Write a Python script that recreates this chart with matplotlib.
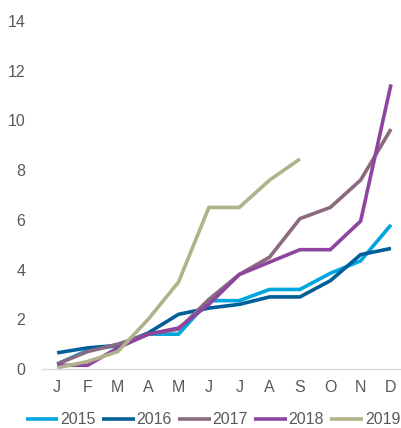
import matplotlib
matplotlib.use("Agg")
import matplotlib.pyplot as plt

plt.rcParams['font.family'] = ['Liberation Sans', 'DejaVu Sans']

months = ["J", "F", "M", "A", "M", "J", "J", "A", "S", "O", "N", "D"]
y2015 = [0.2, 0.75, 0.95, 1.4, 1.4, 2.75, 2.75, 3.2, 3.2, 3.85, 4.35, 5.8]
y2016 = [0.65, 0.85, 0.95, 1.45, 2.2, 2.45, 2.6, 2.9, 2.9, 3.55, 4.6, 4.85]
y2017 = [0.2, 0.7, 1.0, 1.4, 1.6, 2.8, 3.8, 4.5, 6.05, 6.5, 7.6, 9.65]
y2018 = [0.15, 0.15, 0.85, 1.4, 1.65, 2.6, 3.8, 4.3, 4.8, 4.8, 5.95, 11.45]
y2019 = [0.05, 0.3, 0.7, 2.0, 3.5, 6.5, 6.5, 7.6, 8.45]

series = [
    ("2015", y2015, "#00A7DE"),
    ("2016", y2016, "#005E99"),
    ("2017", y2017, "#8B6A7F"),
    ("2018", y2018, "#8E45A0"),
    ("2019", y2019, "#B1B28A"),
]

fig = plt.figure(figsize=(4.01, 4.28), dpi=100)
ax = fig.add_axes([42 / 401, 1 - 369 / 428, 1 - 42 / 401, (369 - 21) / 428])

x = list(range(len(months)))
for label, vals, color in series:
    ax.plot(x[:len(vals)], vals, color=color, lw=2.6, label=label,
            solid_joinstyle="miter", solid_capstyle="butt")

ax.set_xlim(-0.5, 11.33)
ax.set_ylim(0, 14)
ax.set_yticks(range(0, 15, 2))
ax.set_xticks(x)
ax.set_xticklabels(months)
ax.tick_params(axis="both", length=0, labelsize=11.5, colors="#595959")
ax.tick_params(axis="y", pad=12)
ax.tick_params(axis="x", pad=8)
for side in ["top", "right", "left"]:
    ax.spines[side].set_visible(False)
ax.spines["bottom"].set_color("#D9D9D9")
ax.spines["bottom"].set_linewidth(1.0)

leg = fig.legend(loc="center", bbox_to_anchor=(213 / 401, 1 - 420 / 428), ncol=5,
                 frameon=False, fontsize=11.5, handlelength=2.05, handletextpad=0.12,
                 columnspacing=0.38, borderaxespad=0, borderpad=0)
for t in leg.get_texts():
    t.set_color("#595959")

fig.savefig("out.png", dpi=100)
